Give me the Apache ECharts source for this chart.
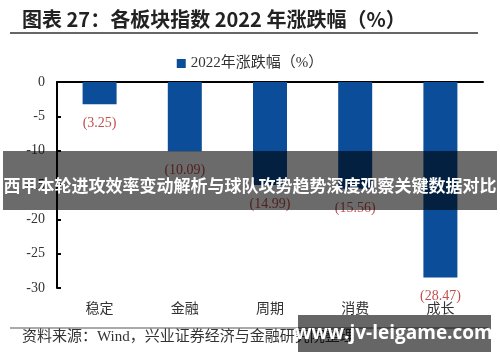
<!DOCTYPE html>
<html><head><meta charset="utf-8">
<script src="https://cdn.jsdelivr.net/npm/echarts@6/dist/echarts.min.js"></script>
<style>html,body{margin:0;padding:0;background:#fff}#c{width:500px;height:362px}</style>
</head><body><div id="c"></div>
<script>
const categories = ['稳定', '金融', '周期', '消费', '成长'];
const values = [-3.25, -10.09, -14.99, -15.56, -28.47];
const seriesName = '2022年涨跌幅（%）';
const titleText = '图表 27：各板块指数 2022 年涨跌幅（%）';
const sourceText = '资料来源：Wind，兴业证券经济与金融研究院整理';
const bannerText = '西甲本轮进攻效率变动解析与球队攻势趋势深度观察关键数据对比';
const watermarkText = 'www.jv-leigame.com';

const serif = '"Liberation Serif", "Noto Sans CJK SC", serif';
const chart = echarts.init(document.getElementById('c'));
chart.setOption({
  animation: false,
  backgroundColor: '#fff',
  legend: {
    top: 51, left: 'center', itemWidth: 9, itemHeight: 9, itemGap: 4,
    icon: 'rect',
    textStyle: { fontFamily: serif, fontSize: 15, color: '#333' },
    data: [seriesName]
  },
  grid: { left: 57, right: 17, top: 82, bottom: 74 },
  xAxis: [
    { type: 'category', data: categories, position: 'bottom',
      axisLine: { show: false }, axisTick: { show: false },
      axisLabel: { margin: 14, fontFamily: serif, fontSize: 14, color: '#333' } },
    { type: 'category', data: categories, position: 'top',
      axisLine: { show: true, onZero: false, lineStyle: { color: '#000', width: 2 } },
      axisTick: { show: false }, axisLabel: { show: false } }
  ],
  yAxis: {
    type: 'value', min: -30, max: 0, interval: 5,
    axisLine: { show: true, lineStyle: { color: '#000', width: 2 } },
    axisTick: { show: true, inside: true, length: 4, lineStyle: { color: '#000', width: 2 } },
    splitLine: { show: false },
    axisLabel: { margin: 12, fontFamily: serif, fontSize: 14, color: '#333' }
  },
  series: [{
    name: seriesName, type: 'bar', data: values, barWidth: 34, xAxisIndex: 0,
    itemStyle: { color: '#0b4d98' },
    label: { show: true, position: 'bottom', distance: 12,
      fontFamily: serif, fontSize: 14, color: '#c0504d',
      formatter: p => '(' + Math.abs(p.value).toFixed(2) + ')' }
  }],
  graphic: [
    { type: 'text', left: 22, top: 9, style: { text: titleText, fontFamily: '"Noto Sans CJK SC", sans-serif', fontWeight: 'bold', fontSize: 20, fill: '#222' } },
    { type: 'line', shape: { x1: 10, y1: 33, x2: 478, y2: 33 }, style: { stroke: '#333', lineWidth: 1.5 } },
    { type: 'line', shape: { x1: 10, y1: 328, x2: 488, y2: 328 }, style: { stroke: '#555', lineWidth: 1 } },
    { type: 'text', left: 22, top: 330, style: { text: sourceText, fontFamily: serif, fontSize: 15, fill: '#333' } },
    { type: 'rect', shape: { x: 3, y: 151, width: 494, height: 59 }, style: { fill: 'rgba(0,0,0,0.58)' }, z: 100 },
    { type: 'text', x: 250, y: 186, z: 101, style: { text: bannerText, align: 'center', verticalAlign: 'middle', fontFamily: '"Noto Sans CJK SC", sans-serif', fontWeight: 'bold', fontSize: 17, fill: '#fff' } },
    { type: 'rect', shape: { x: 298, y: 315, width: 193, height: 37 }, style: { fill: 'rgba(0,0,0,0.6)' }, z: 100 },
    { type: 'text', x: 394, y: 334, z: 101, style: { text: watermarkText, align: 'center', verticalAlign: 'middle', fontFamily: '"Open Sans", "DejaVu Sans", sans-serif', fontWeight: 'bold', fontSize: 19, fill: '#fff' } }
  ]
});
</script></body></html>
